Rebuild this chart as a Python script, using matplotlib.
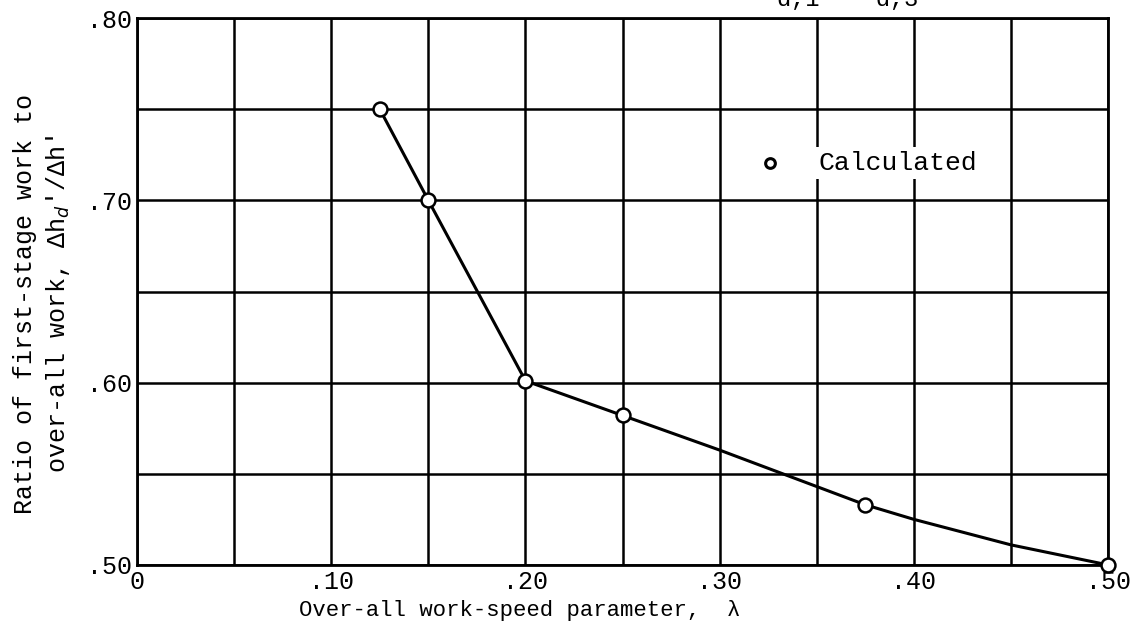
import numpy as np
import matplotlib.pyplot as plt

plt.rcParams['font.family'] = ['Liberation Mono', 'DejaVu Sans Mono']

# calculated points
lam_calc   = [0.125, 0.15, 0.20, 0.25, 0.375, 0.50]
ratio_calc = [0.750, 0.700, 0.601, 0.582, 0.533, 0.500]

# faired curve
lam_curve   = [0.125, 0.15, 0.20, 0.25, 0.30, 0.35, 0.375, 0.40, 0.45, 0.50]
ratio_curve = [0.750, 0.700, 0.601, 0.582, 0.563, 0.543, 0.533, 0.525, 0.511, 0.500]

xticks = [0, 0.10, 0.20, 0.30, 0.40, 0.50]
xtick_labels = ['0', '.10', '.20', '.30', '.40', '.50']
yticks = [0.50, 0.60, 0.70, 0.80]
ytick_labels = ['.50', '.60', '.70', '.80']

fig = plt.figure(figsize=(11.33, 6.27), dpi=100)
ax = fig.add_axes([0.121, 0.099, 0.857, 0.872])

ax.plot(lam_curve, ratio_curve, color='black', lw=2.2, zorder=3)
ax.plot(lam_calc, ratio_calc, 'o', ms=10, mfc='white', mec='black', mew=1.8, zorder=4,
        clip_on=False)

ax.set_xlim(0, 0.5)
ax.set_ylim(0.5, 0.8)
ax.set_xticks(xticks)
ax.set_xticklabels(xtick_labels)
ax.set_yticks(yticks)
ax.set_yticklabels(ytick_labels)
ax.set_xticks(np.arange(0, 0.51, 0.05), minor=True)
ax.set_yticks(np.arange(0.5, 0.81, 0.05), minor=True)
ax.grid(which='both', color='black', lw=1.8)
ax.tick_params(which='both', length=0, labelsize=18, pad=4)
for s in ax.spines.values():
    s.set_linewidth(2)

ax.set_xlabel('Over-all work-speed parameter,  \u03bb', fontsize=16)
ax.xaxis.set_label_coords(0.394, -0.064)
ax.set_ylabel("Ratio of first-stage work to\nover-all work, \u0394h$_d$'/\u0394h'", fontsize=18,
              linespacing=1.35)
ax.yaxis.set_label_coords(-0.067, 0.477)

# legend key
ax.plot([0.326], [0.7205], 'o', ms=7, mfc='white', mec='black', mew=2.2, clip_on=False, zorder=5)
ax.text(0.3507, 0.7205, 'Calculated', fontsize=19, va='center', ha='left', zorder=5,
        bbox=dict(facecolor='white', edgecolor='none', pad=3))

# fragment of the clipped title (cut off at the top edge in the original too)
fig.text(0.686, 1.0, 'd,1    d,3', fontsize=17, va='center', ha='left')

fig.savefig('out.png', dpi=100, facecolor='white')
